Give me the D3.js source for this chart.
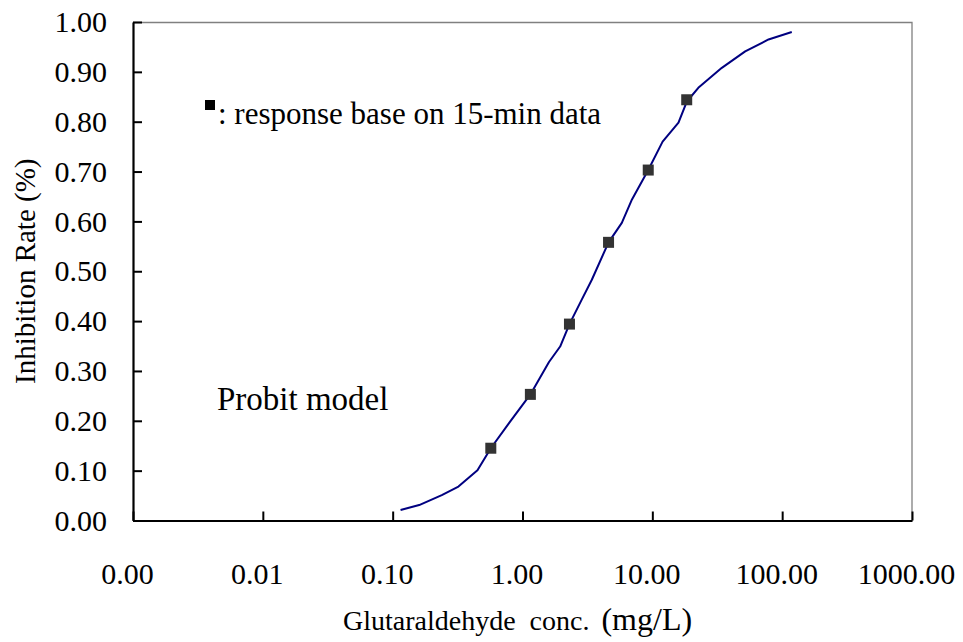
<!DOCTYPE html>
<html>
<head>
<meta charset="utf-8">
<script src="https://cdn.jsdelivr.net/npm/d3@7"></script>
<style>
  body { margin: 0; background: #fff; }
  svg text { font-family: "Liberation Serif", "DejaVu Serif", serif; fill: #000; }
</style>
</head>
<body>
<svg id="chart" width="963" height="642"></svg>
<script>
// measured points (15-min response)
const concData = [0.57, 1.15, 2.3, 4.6, 9.3, 18.4];
const rateData = [0.145, 0.253, 0.394, 0.558, 0.703, 0.844];

// probit model curve
const curveConc = [0.115, 0.16, 0.239, 0.321, 0.45, 0.57, 0.8, 1.15, 1.6, 1.95, 2.3, 2.86, 3.42, 4.6, 5.82, 6.97, 9.3, 12, 15.9, 18.4, 22.6, 34.3, 51.9, 78.5, 118.6];
const curveRate = [0.021, 0.031, 0.051, 0.068, 0.101, 0.145, 0.198, 0.253, 0.318, 0.349, 0.394, 0.443, 0.483, 0.558, 0.597, 0.644, 0.703, 0.76, 0.798, 0.84, 0.868, 0.908, 0.941, 0.965, 0.98];

const xTicks = [0.001, 0.01, 0.1, 1, 10, 100, 1000];
const yTicks = [0, 0.1, 0.2, 0.3, 0.4, 0.5, 0.6, 0.7, 0.8, 0.9, 1.0];

const svg = d3.select("#chart");
const margin = {top: 22, right: 51, bottom: 121.5, left: 133};
const width = +svg.attr("width") - margin.left - margin.right;
const height = +svg.attr("height") - margin.top - margin.bottom;
const g = svg.append("g").attr("transform", "translate(" + margin.left + "," + margin.top + ")");

const x = d3.scaleLog().domain([0.001, 1000]).range([0, width]);
const y = d3.scaleLinear().domain([0, 1]).range([height, 0]);

// top and right frame (grey)
g.append("path")
    .attr("d", `M0,0.5H${width}V${height}`)
    .attr("fill", "none")
    .attr("stroke", "#808080")
    .attr("stroke-width", 1.3);

// axes
const xAxis = g.append("g")
    .attr("transform", "translate(0," + height + ")")
    .call(d3.axisBottom(x).tickValues(xTicks).tickFormat(d3.format(".2f")).tickSizeInner(-9).tickSizeOuter(0).tickPadding(42));
const yAxis = g.append("g")
    .call(d3.axisLeft(y).tickValues(yTicks).tickFormat(d3.format(".2f")).tickSizeInner(-9).tickSizeOuter(0).tickPadding(26));

[xAxis, yAxis].forEach(ax => {
    ax.select(".domain").attr("stroke", "#000").attr("stroke-width", 2.2);
    ax.selectAll(".tick line").attr("stroke", "#000").attr("stroke-width", 2);
    ax.selectAll(".tick text").attr("font-size", 30).attr("font-family", "Liberation Serif").attr("fill", "#000");
});
xAxis.selectAll(".tick text").attr("dx", -6);

// axis titles
svg.append("text")
    .attr("transform", "translate(35," + (margin.top + height / 2) + ") rotate(-90)")
    .attr("text-anchor", "middle")
    .attr("font-size", 29)
    .text("Inhibition Rate (%)");

const xTitle = svg.append("text")
    .attr("x", 343)
    .attr("y", 630);
xTitle.append("tspan").attr("font-size", 28).text("Glutaraldehyde\u00a0 conc.");
xTitle.append("tspan").attr("font-size", 32).attr("dx", 12).text("(mg/L)");

// model curve
const line = d3.line()
    .x(d => x(d[0]))
    .y(d => y(d[1]));

g.append("path")
    .datum(d3.zip(curveConc, curveRate))
    .attr("fill", "none")
    .attr("stroke", "#000080")
    .attr("stroke-width", 2)
    .attr("stroke-linejoin", "round")
    .attr("d", line);

// data squares
g.selectAll(".pt")
    .data(d3.zip(concData, rateData))
    .join("rect")
    .attr("class", "pt")
    .attr("x", d => x(d[0]) - 5.5)
    .attr("y", d => y(d[1]) - 5.5)
    .attr("width", 11)
    .attr("height", 11)
    .attr("fill", "#333");

// annotations
svg.append("rect")
    .attr("x", 205).attr("y", 100)
    .attr("width", 10).attr("height", 10)
    .attr("fill", "#000");
svg.append("text")
    .attr("x", 218).attr("y", 124)
    .attr("font-size", 31)
    .text(": response base on 15-min data");

svg.append("text")
    .attr("x", 217).attr("y", 410)
    .attr("font-size", 33)
    .text("Probit model");
</script>
</body>
</html>
